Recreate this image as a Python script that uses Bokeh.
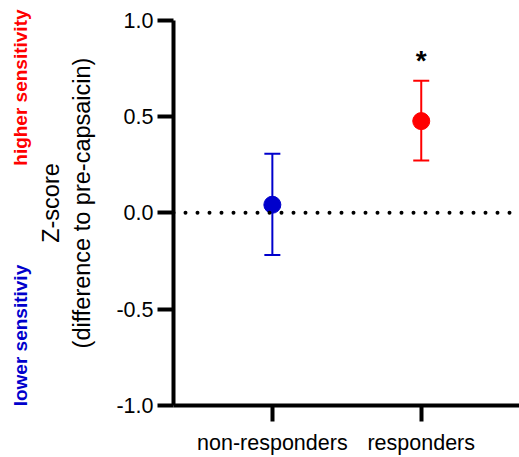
from bokeh.plotting import figure
from bokeh.layouts import row
from bokeh.models import Range1d, FixedTicker, Span, Whisker, ColumnDataSource
from bokeh.embed import file_html
from bokeh.resources import INLINE
from bokeh.core.properties import value
import math

groups = ["non-responders", "responders"]
xpos = [1, 2]
means = [0.042, 0.476]
upper = [0.306, 0.685]
lower = [-0.219, 0.272]
colors = ["#0000CC", "#FF0000"]
yticks = [-1.0, -0.5, 0.0, 0.5, 1.0]
ytick_labels = ["-1.0", "-0.5", "0.0", "0.5", "1.0"]
sig_marks = ["", "*"]
sig_y = [0.0, 0.79]
side_texts = ["higher sensitivity", "lower sensitiviy"]
side_y = [0.65, -0.637]
side_colors = ["#FF0000", "#0000CC"]

FONT = "Liberation Sans"
H = 457
BOTTOM = 45          # space below the frame (x axis + labels)
TOP_PAD = 20         # pixels between canvas top and the y = 1.0 tick
LEFT_W = 32
PX_PER_UNIT = (H - BOTTOM - TOP_PAD) / 2.0
Y_END = 1.0 + TOP_PAD / PX_PER_UNIT

# narrow left panel carrying the coloured annotations (same y scale as main plot)
pl = figure(width=LEFT_W, height=H, output_backend="svg", toolbar_location=None,
            title=None, x_range=Range1d(0, LEFT_W), y_range=Range1d(-1.0, Y_END),
            x_axis_location=None, y_axis_location=None,
            min_border_left=0, min_border_right=0, min_border_top=0, min_border_bottom=BOTTOM)
pl.outline_line_color = None
pl.grid.visible = False
side_src = ColumnDataSource(dict(x=[20, 20], y=side_y, t=side_texts, c=side_colors))
pl.text("x", "y", text="t", source=side_src, angle=math.pi / 2, text_align="center",
        text_baseline="middle", text_font=value(FONT), text_font_size="19px",
        text_font_style="bold", text_color="c")

p = figure(width=519 - LEFT_W, height=H, output_backend="svg", toolbar_location=None,
           title=None, x_range=Range1d(0.336, 2.66), y_range=Range1d(-1.0, Y_END),
           min_border_left=173 - LEFT_W, min_border_right=0,
           min_border_top=0, min_border_bottom=BOTTOM)
p.outline_line_color = None
p.grid.visible = False

for ax in (p.xaxis[0], p.yaxis[0]):
    ax.axis_line_width = 4
    ax.axis_line_color = "black"
    ax.major_tick_line_width = 4
    ax.major_tick_line_color = "black"
    ax.major_tick_out = 16
    ax.major_tick_in = 0
    ax.minor_tick_line_color = None
    ax.major_label_text_font = FONT
    ax.major_label_text_font_size = "21.5px"
    ax.major_label_text_color = "black"

p.xaxis.ticker = FixedTicker(ticks=xpos)
p.xaxis.major_label_overrides = {x: g for x, g in zip(xpos, groups)}
p.xaxis.major_label_standoff = 9
p.yaxis.ticker = FixedTicker(ticks=yticks)
p.yaxis.major_label_overrides = {t: l for t, l in zip(yticks, ytick_labels)}
p.yaxis.major_label_standoff = 4
p.yaxis.bounds = (-1.0, 1.0)

p.yaxis.axis_label = "Z-score\n(difference to pre-capsaicin)"
p.yaxis.axis_label_text_font = FONT
p.yaxis.axis_label_text_font_size = "23.5px"
p.yaxis.axis_label_text_font_style = "normal"
p.yaxis.axis_label_text_color = "black"
p.yaxis.axis_label_standoff = 18

# zero reference line
p.add_layout(Span(location=0, dimension="width", line_color="black", line_width=4,
                  line_dash="0 12", line_cap="round"))

src = ColumnDataSource(dict(x=xpos, m=means, up=upper, lo=lower, c=colors,
                            t=sig_marks, ty=sig_y))
w = Whisker(base="x", upper="up", lower="lo", source=src, dimension="height",
            line_color="c", line_width=2)
w.upper_head.size = 16
w.lower_head.size = 16
w.upper_head.line_color = "c"
w.lower_head.line_color = "c"
w.upper_head.line_width = 2
w.lower_head.line_width = 2
p.add_layout(w)

p.scatter("x", "m", source=src, size=17, fill_color="c", line_color="c")

p.text("x", "ty", text="t", source=src, text_align="center", text_baseline="middle",
       text_font=value(FONT), text_font_size="28px", text_font_style="bold", text_color="black")

layout = row(pl, p)
open("out.html", "w").write(file_html(layout, INLINE))
